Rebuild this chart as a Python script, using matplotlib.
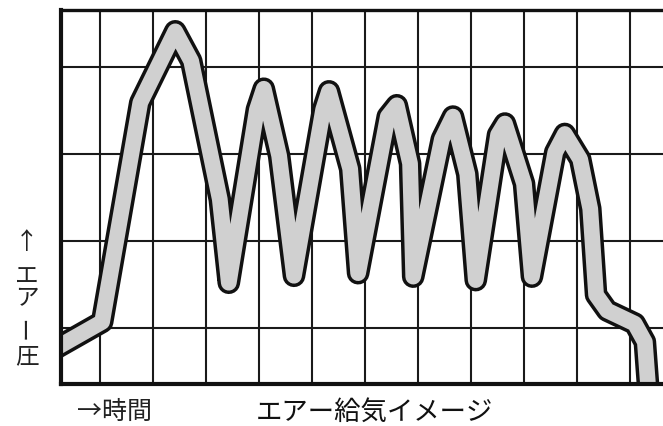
import matplotlib.pyplot as plt

plt.rcParams['font.family'] = ['Noto Sans CJK JP', 'DejaVu Sans']

# air pressure over time, in grid units (one grid cell = 1)
time = [0.00, 1.04, 1.76, 2.42, 2.72, 3.26, 3.43, 3.96, 4.09, 4.38, 4.66,
        5.21, 5.32, 5.72, 5.87, 6.43, 6.60, 6.85, 6.91, 7.45, 7.66, 7.93,
        8.09, 8.51, 8.64, 9.00, 9.15, 9.59, 9.77, 10.06, 10.25, 10.36,
        10.57, 11.09, 11.28, 11.36]
pressure = [0.71, 1.07, 3.59, 4.41, 4.07, 2.48, 1.52, 3.51, 3.75, 2.98, 1.60,
            3.51, 3.72, 2.83, 1.63, 3.43, 3.56, 2.89, 1.59, 3.17, 3.43, 2.77,
            1.55, 3.22, 3.35, 2.66, 1.59, 3.02, 3.23, 2.94, 2.37, 1.38,
            1.20, 1.05, 0.84, 0.18]

grid_x = list(range(1, 13))
grid_y = [1, 2, 3, 4]

title = 'エアー給気イメージ'
x_label = '→時間'
y_label = ['↑', 'エ', 'ア', 'ー', '圧']

W, H = 663, 427
fig = plt.figure(figsize=(W / 100, H / 100), dpi=100)

# axes box: left edge at px 61, top at 11, bottom at 385, right runs off the image
ax = fig.add_axes([61 / W, 1 - 385 / H, (720 - 61) / W, (385 - 11) / H])
ax.set_xlim(0.264, 12.698)
ax.set_ylim(0.356, 4.655)

ax.set_xticks(grid_x)
ax.set_yticks(grid_y)
ax.tick_params(length=0, labelbottom=False, labelleft=False)
ax.grid(True, color='#1a1a1a', linewidth=1.5)
ax.set_axisbelow(True)

for side, lw in [('left', 3.0), ('top', 2.4), ('bottom', 3.0)]:
    ax.spines[side].set_linewidth(lw)
    ax.spines[side].set_color('#111111')
ax.spines['right'].set_visible(False)
for sp in ax.spines.values():
    sp.set_zorder(5)

# thick grey band with black outline
ax.plot(time, pressure, color='#111111', linewidth=16.3,
        solid_joinstyle='round', solid_capstyle='round', zorder=3)
ax.plot(time, pressure, color='#d0d0d0', linewidth=11.3,
        solid_joinstyle='round', solid_capstyle='round', zorder=4)

# vertical y label, one character at a time
label_y = [243, 276, 299, 327, 357]
for ch, py in zip(y_label, label_y):
    rot = 90 if ch == 'ー' else 0
    fig.text(27 / W, 1 - py / H, ch, fontsize=17, rotation=rot,
             ha='center', va='center', color='#222222')

fig.text(115 / W, 1 - 412 / H, x_label, fontsize=18,
         ha='center', va='center', color='#222222')
fig.text(374 / W, 1 - 412 / H, title, fontsize=19,
         ha='center', va='center', color='#111111')

fig.savefig('out.png', dpi=100)
